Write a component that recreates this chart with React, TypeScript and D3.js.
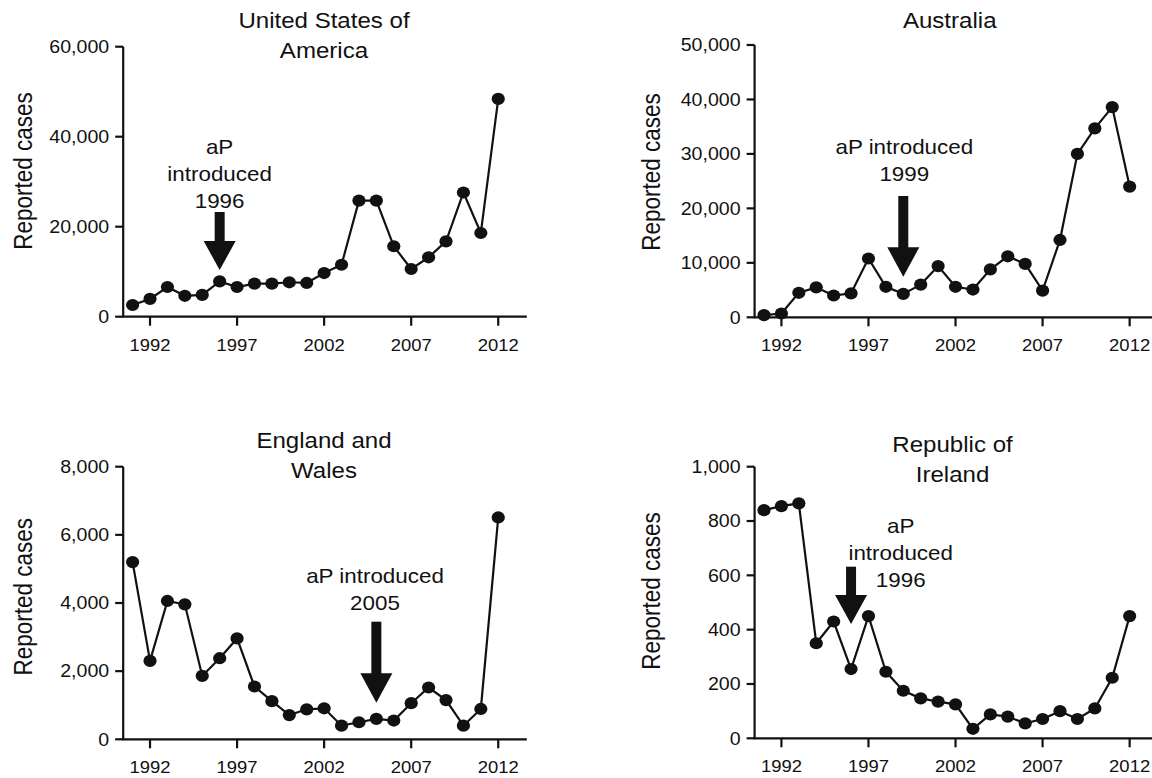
import React from "react";
import * as d3 from "d3";

const years = [1991, 1992, 1993, 1994, 1995, 1996, 1997, 1998, 1999, 2000, 2001, 2002, 2003, 2004, 2005, 2006, 2007, 2008, 2009, 2010, 2011, 2012];
const xTickYears = [1992, 1997, 2002, 2007, 2012];

const usaCases = [2600, 3950, 6600, 4650, 4850, 7850, 6600, 7350, 7350, 7650, 7500, 9700, 11550, 25800, 25800, 15650, 10600, 13200, 16750, 27600, 18600, 48400];
const australiaCases = [400, 700, 4500, 5500, 4000, 4400, 10800, 5600, 4300, 6000, 9400, 5600, 5100, 8800, 11200, 9800, 4900, 14200, 30000, 34700, 38600, 24000];
const englandWalesCases = [5200, 2300, 4060, 3960, 1860, 2380, 2960, 1550, 1120, 710, 880, 910, 400, 500, 600, 550, 1060, 1520, 1150, 400, 890, 6510];
const irelandCases = [840, 855, 865, 350, 430, 255, 450, 245, 175, 147, 135, 125, 35, 88, 80, 55, 71, 100, 71, 110, 223, 450];

const usaTicks = [0, 20000, 40000, 60000];
const australiaTicks = [0, 10000, 20000, 30000, 40000, 50000];
const englandWalesTicks = [0, 2000, 4000, 6000, 8000];
const irelandTicks = [0, 200, 400, 600, 800, 1000];

const usaTitle = ["United States of", "America"];
const australiaTitle = ["Australia"];
const englandWalesTitle = ["England and", "Wales"];
const irelandTitle = ["Republic of", "Ireland"];

const usaNote = ["aP", "introduced", "1996"];
const australiaNote = ["aP introduced", "1999"];
const englandWalesNote = ["aP introduced", "2005"];
const irelandNote = ["aP", "introduced", "1996"];

const FONT = "'Liberation Sans', Arial, Helvetica, sans-serif";
const SX = 1.12;
const fmt = d3.format(",");

type PanelProps = {
  values: number[];
  ticks: number[];
  title: string[];
  note: string[];
  noteYear: number;
  axisX: number;
  y0: number;
  yTop: number;
  titleX: number;
  titleY: number;
  labelX: number;
  labelY: number;
  noteX: number;
  noteY: number;
  shaftTop: number;
  headStart: number;
  tip: number;
};

function STxt({ x, y, size, anchor = "middle", children, dy }: any) {
  return (
    <text
      transform={`translate(${x},${y}) scale(${SX},1)`}
      fontFamily={FONT}
      fontSize={size}
      textAnchor={anchor}
      dy={dy}
      fill="#111"
    >
      {children}
    </text>
  );
}

function Panel(p: PanelProps) {
  const x = d3.scaleLinear().domain([1990.46, 2013.64]).range([p.axisX, p.axisX + 403.6]);
  const yMax = p.ticks[p.ticks.length - 1];
  const y = d3.scaleLinear().domain([0, yMax]).range([p.y0, p.yTop]);
  const line = d3
    .line<number>()
    .x((_, i) => x(years[i]))
    .y((d) => y(d));
  const ax = x(p.noteYear);
  const shaftW = 10;
  const headW = 32;
  return (
    <g>
      <line x1={p.axisX} x2={p.axisX} y1={p.yTop} y2={p.y0} stroke="#111" strokeWidth={2.2} />
      <line x1={p.axisX - 1} x2={x(2013.64)} y1={p.y0} y2={p.y0} stroke="#111" strokeWidth={2.2} />
      {p.ticks.map((t) => (
        <g key={t}>
          <line x1={p.axisX - 8} x2={p.axisX} y1={y(t)} y2={y(t)} stroke="#111" strokeWidth={2.2} />
          <STxt x={p.axisX - 14} y={y(t)} size={17.5} anchor="end" dy="0.36em">
            {fmt(t)}
          </STxt>
        </g>
      ))}
      {xTickYears.map((yr) => (
        <g key={yr}>
          <line x1={x(yr)} x2={x(yr)} y1={p.y0} y2={p.y0 + 9} stroke="#111" strokeWidth={2.2} />
          <STxt x={x(yr)} y={p.y0 + 34} size={16.5}>
            {yr}
          </STxt>
        </g>
      ))}
      <text
        transform={`translate(${p.labelX},${p.labelY}) scale(${SX},1) rotate(-90)`}
        fontFamily={FONT}
        fontSize={22.5}
        textAnchor="middle"
        dy="0.35em"
        fill="#111"
      >
        Reported cases
      </text>
      {p.title.map((t, i) => (
        <STxt key={t} x={p.titleX} y={p.titleY + i * 30} size={21.5}>
          {t}
        </STxt>
      ))}
      <path d={line(p.values) || ""} fill="none" stroke="#111" strokeWidth={2.2} />
      {p.values.map((v, i) => (
        <ellipse key={i} cx={x(years[i])} cy={y(v)} rx={6.6} ry={6.1} fill="#111" />
      ))}
      {p.note.map((t, i) => (
        <STxt key={t} x={p.noteX} y={p.noteY + i * 27} size={20}>
          {t}
        </STxt>
      ))}
      <rect x={ax - shaftW / 2} y={p.shaftTop} width={shaftW} height={p.headStart - p.shaftTop + 1} fill="#111" />
      <path
        d={`M${ax - headW / 2},${p.headStart} L${ax + headW / 2},${p.headStart} L${ax},${p.tip} Z`}
        fill="#111"
      />
    </g>
  );
}

export default function App() {
  return (
    <svg
      width={1152}
      height={778}
      style={{ position: "absolute", left: 0, top: 0, background: "#fff" }}
    >
      <rect width={1152} height={778} fill="#fff" />
      <Panel
        values={usaCases}
        ticks={usaTicks}
        title={usaTitle}
        note={usaNote}
        noteYear={1996}
        axisX={123.2}
        y0={316.7}
        yTop={46.7}
        titleX={324}
        titleY={28.3}
        labelX={23.2}
        labelY={171}
        noteX={219.6}
        noteY={154}
        shaftTop={212}
        headStart={241}
        tip={270}
      />
      <Panel
        values={australiaCases}
        ticks={australiaTicks}
        title={australiaTitle}
        note={australiaNote}
        noteYear={1999}
        axisX={754.6}
        y0={317.3}
        yTop={45}
        titleX={949.7}
        titleY={28.3}
        labelX={650.7}
        labelY={172}
        noteX={904.3}
        noteY={153.5}
        shaftTop={196}
        headStart={247.3}
        tip={276.7}
      />
      <Panel
        values={englandWalesCases}
        ticks={englandWalesTicks}
        title={englandWalesTitle}
        note={englandWalesNote}
        noteYear={2005}
        axisX={123.2}
        y0={739.3}
        yTop={466.7}
        titleX={324}
        titleY={448.3}
        labelX={23.2}
        labelY={596.7}
        noteX={375}
        noteY={583.3}
        shaftTop={621.7}
        headStart={673.3}
        tip={702.7}
      />
      <Panel
        values={irelandCases}
        ticks={irelandTicks}
        title={irelandTitle}
        note={irelandNote}
        noteYear={1996}
        axisX={754.6}
        y0={738.3}
        yTop={466.7}
        titleX={952.5}
        titleY={451.7}
        labelX={650.7}
        labelY={591}
        noteX={900.7}
        noteY={533.3}
        shaftTop={566.7}
        headStart={595}
        tip={624}
      />
    </svg>
  );
}
